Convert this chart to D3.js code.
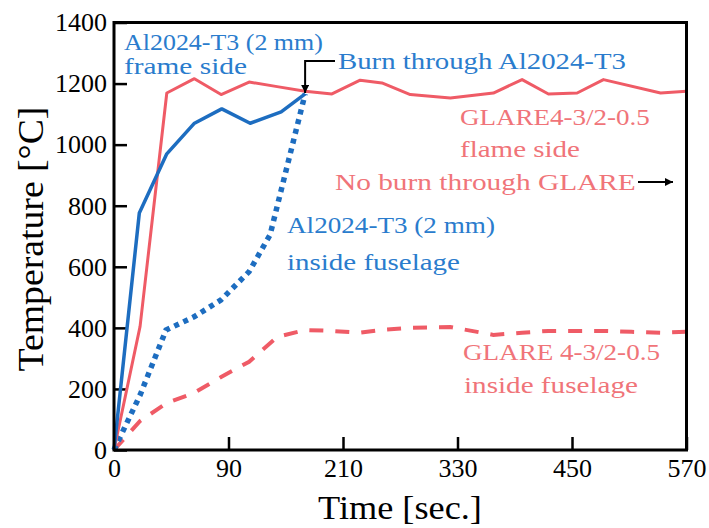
<!DOCTYPE html>
<html>
<head>
<meta charset="utf-8">
<script src="https://d3js.org/d3.v7.min.js"></script>
<style>
  body { margin: 0; background: #fff; }
  svg { display: block; }
  svg text { font-family: "Liberation Serif", serif; }
</style>
</head>
<body>
<div id="chart"></div>
<script>
// x ticks are evenly spaced on the figure even though the steps differ (90 then 120)
var xTicks = [0, 90, 210, 330, 450, 570];
var yTicks = [0, 200, 400, 600, 800, 1000, 1200, 1400];

// time [s]
var glareFlameT = [0, 20.5, 41.5, 63.2, 84.2, 111.6, 141, 170.4, 198.4, 228, 250.8, 280.5, 322.5, 367.6, 397.7, 425.3, 455.4, 483, 542.8, 570];
var glareFlameV = [0, 405, 1169, 1216, 1164, 1205, 1190, 1175, 1166, 1211, 1202, 1164, 1153, 1169, 1213, 1166, 1169, 1213, 1169, 1175];

var alFrameT = [0, 19.9, 41.5, 62.9, 84.7, 112.7, 145.2, 170.3];
var alFrameV = [0, 776, 970, 1069, 1117, 1070, 1107, 1166];

var alInsideT = [0, 20.5, 40.9, 62.9, 84.2, 111.6, 133.6, 170.3];
var alInsideV = [0, 180, 393, 436, 492, 584, 705, 1166];

var glareInsideT = [0, 20.5, 41.5, 62.9, 84.2, 111.6, 141, 170.4, 198.4, 228, 250.8, 280.5, 322.5, 367.6, 397.7, 425.3, 455.4, 483, 512.4, 542.8, 570];
var glareInsideV = [0, 95, 154, 187, 239, 289, 370, 393, 390, 384, 393, 400, 403, 377, 384, 390, 390, 390, 387, 384, 387];

var width = 709, height = 528;
var margin = { top: 22.5, right: 22.5, bottom: 78, left: 114 };
var innerWidth = width - margin.left - margin.right,
    innerHeight = height - margin.top - margin.bottom;

var red = "#ef5b66", redText = "#f07479";
var blue = "#1d6dc0", blueText = "#2a7ccd";

function zip(ts, vs) {
  return ts.map(function(t, i) { return { t: t, v: vs[i] }; });
}

// squeeze/stretch a text horizontally to a target width (Palatino stand-in)
function fitWidth(sel, x0, y0, w) {
  var len = sel.node().getComputedTextLength();
  sel.attr("x", 0).attr("y", 0)
    .attr("transform", "translate(" + x0 + "," + y0 + ") scale(" + (w / len) + ",1)");
}

var svg = d3.select("#chart").append("svg")
  .attr("width", width)
  .attr("height", height);

var g = svg.append("g")
  .attr("transform", "translate(" + margin.left + "," + margin.top + ")");

// piecewise scale so every labelled tick is the same distance apart
var x = d3.scaleLinear()
  .domain(xTicks)
  .range(xTicks.map(function(d, i) { return i * innerWidth / (xTicks.length - 1); }));

var y = d3.scaleLinear()
  .domain([0, 1400])
  .range([innerHeight, 0]);

var line = d3.line()
  .x(function(d) { return x(d.t); })
  .y(function(d) { return y(d.v); });

// axes with inward ticks
var yAxis = d3.axisLeft(y)
  .tickValues(yTicks)
  .tickFormat(d3.format("d"))
  .tickSizeInner(-13)
  .tickSizeOuter(0)
  .tickPadding(7);

var xAxis = d3.axisBottom(x)
  .tickValues(xTicks)
  .tickFormat(d3.format("d"))
  .tickSizeInner(-13)
  .tickSizeOuter(0)
  .tickPadding(9);

var gy = g.append("g").call(yAxis);
var gx = g.append("g").attr("transform", "translate(0," + innerHeight + ")").call(xAxis);

[gx, gy].forEach(function(ax) {
  ax.select(".domain").remove();
  ax.selectAll(".tick line").attr("stroke", "#000").attr("stroke-width", 2.5);
  ax.selectAll(".tick text")
    .attr("fill", "#000")
    .style("font-family", "'Liberation Serif', serif")
    .style("font-size", "26px");
});

// data lines
g.append("path")
  .datum(zip(glareInsideT, glareInsideV))
  .attr("fill", "none")
  .attr("stroke", red)
  .attr("stroke-width", 4)
  .attr("stroke-dasharray", "14,12")
  .attr("d", line);

g.append("path")
  .datum(zip(alInsideT, alInsideV))
  .attr("fill", "none")
  .attr("stroke", blue)
  .attr("stroke-width", 5.5)
  .attr("stroke-dasharray", "5,5")
  .attr("d", line);

g.append("path")
  .datum(zip(glareFlameT, glareFlameV))
  .attr("fill", "none")
  .attr("stroke", red)
  .attr("stroke-width", 3)
  .attr("stroke-linejoin", "round")
  .attr("d", line);

g.append("path")
  .datum(zip(alFrameT, alFrameV))
  .attr("fill", "none")
  .attr("stroke", blue)
  .attr("stroke-width", 3.5)
  .attr("stroke-linejoin", "round")
  .attr("d", line);

// frame
g.append("rect")
  .attr("x", 0).attr("y", 0)
  .attr("width", innerWidth).attr("height", innerHeight)
  .attr("fill", "none")
  .attr("stroke", "#000")
  .attr("stroke-width", 3);

// axis titles
var xTitle = svg.append("text")
  .style("font-size", "34px")
  .text("Time [sec.]");
fitWidth(xTitle, 318, 519, 164);

var yTitle = svg.append("text")
  .style("font-size", "35px")
  .text("Temperature [°C]");
(function() {
  var len = yTitle.node().getComputedTextLength();
  yTitle.attr("text-anchor", "middle")
    .attr("transform", "translate(43,239) rotate(-90) scale(" + (265 / len) + ",1)");
})();

// annotations
var labels = [
  { text: "Al2024-T3 (2 mm)", x: 124, y: 50, w: 199, c: blueText },
  { text: "frame side", x: 124, y: 74, w: 123, c: blueText },
  { text: "Burn through Al2024-T3", x: 338, y: 69, w: 288, c: blueText },
  { text: "GLARE4-3/2-0.5", x: 460, y: 125, w: 190, c: redText },
  { text: "flame side", x: 460, y: 157, w: 120, c: redText },
  { text: "No burn through GLARE", x: 335, y: 190, w: 301, c: redText },
  { text: "Al2024-T3 (2 mm)", x: 287, y: 233, w: 208, c: blueText },
  { text: "inside fuselage", x: 287, y: 270, w: 173, c: blueText },
  { text: "GLARE 4-3/2-0.5", x: 463, y: 360, w: 197, c: redText },
  { text: "inside fuselage", x: 464, y: 393, w: 174, c: redText }
];

svg.selectAll("text.note")
  .data(labels)
  .enter().append("text")
  .attr("class", "note")
  .attr("fill", function(d) { return d.c; })
  .style("font-size", "24px")
  .text(function(d) { return d.text; })
  .each(function(d) { fitWidth(d3.select(this), d.x, d.y, d.w); });

// arrows
svg.append("defs").append("marker")
  .attr("id", "head")
  .attr("viewBox", "0 0 10 10")
  .attr("refX", 10).attr("refY", 5)
  .attr("markerWidth", 8).attr("markerHeight", 8)
  .attr("markerUnits", "userSpaceOnUse")
  .attr("orient", "auto")
  .append("path")
  .attr("d", "M0,0L10,5L0,10Z")
  .attr("fill", "#000");

// burn-through point = last point of the Al frame-side curve
var bx = margin.left + x(alFrameT[alFrameT.length - 1]),
    by = margin.top + y(alFrameV[alFrameV.length - 1]);

svg.append("path")
  .attr("d", "M335,61H" + bx + "V" + (by - 1))
  .attr("fill", "none")
  .attr("stroke", "#000")
  .attr("stroke-width", 2)
  .attr("marker-end", "url(#head)");

svg.append("path")
  .attr("d", "M638,182H673")
  .attr("fill", "none")
  .attr("stroke", "#000")
  .attr("stroke-width", 2)
  .attr("marker-end", "url(#head)");
</script>
</body>
</html>
